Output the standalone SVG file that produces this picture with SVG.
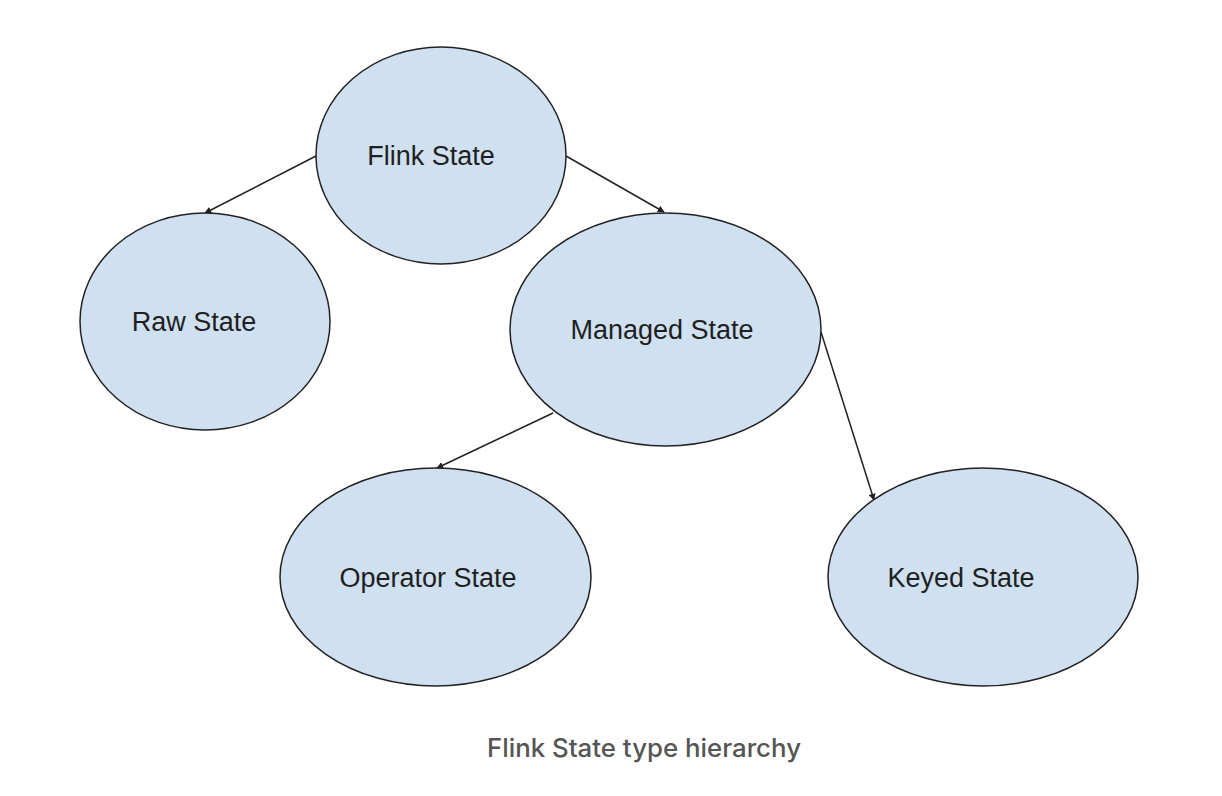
<svg xmlns="http://www.w3.org/2000/svg" width="1222" height="796" viewBox="0 0 1222 796">
<style>
.node ellipse{fill:#cfe0f1;stroke:#222;stroke-width:1.5}
.node text{font-family:"Liberation Sans",Arial,sans-serif;font-size:27px;fill:#1f1f1f;text-anchor:middle;dominant-baseline:central}
.edge{stroke:#222;stroke-width:1.5;fill:none;marker-end:url(#arr)}
.cap{font-family:Inter,"Liberation Sans",sans-serif;font-size:25.8px;font-weight:500;fill:#555;text-anchor:middle}
</style>
<defs>
<marker id="arr" viewBox="0 0 10 10" refX="9" refY="5" markerWidth="7" markerHeight="7" markerUnits="userSpaceOnUse" orient="auto">
<path d="M0,0 L10,5 L0,10 z" fill="#222"/>
</marker>
</defs>
<rect width="1222" height="796" fill="#fff"/>
<g id="connectors">
<line class="edge" x1="316" y1="156" x2="205" y2="213"/>
<line class="edge" x1="566" y1="156" x2="664" y2="212"/>
<line class="edge" x1="553" y1="413" x2="437" y2="468"/>
<line class="edge" x1="821" y1="332" x2="874" y2="500"/>
</g>
<g id="flink-state" class="node"><ellipse cx="441" cy="155.5" rx="125" ry="108.5"/><text x="431" y="156">Flink State</text></g>
<g id="raw-state" class="node"><ellipse cx="205" cy="321.5" rx="125" ry="108.5"/><text x="194" y="322">Raw State</text></g>
<g id="managed-state" class="node"><ellipse cx="665.5" cy="329.5" rx="155.5" ry="116.5"/><text x="662" y="330">Managed State</text></g>
<g id="operator-state" class="node"><ellipse cx="435.5" cy="577" rx="155.5" ry="109"/><text x="428" y="578">Operator State</text></g>
<g id="keyed-state" class="node"><ellipse cx="983" cy="577" rx="155" ry="109"/><text x="961" y="578">Keyed State</text></g>
<text class="cap" x="644" y="757">Flink State type hierarchy</text>
</svg>
